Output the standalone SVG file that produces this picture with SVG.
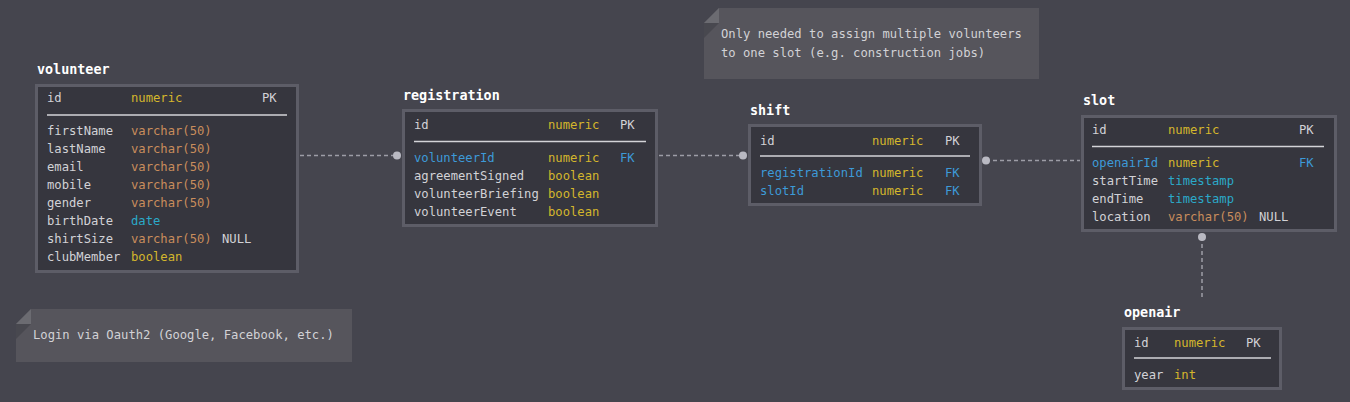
<svg xmlns="http://www.w3.org/2000/svg" width="1350" height="402" viewBox="0 0 1350 402">
<style>
text{font-family:"DejaVu Sans Mono","Liberation Mono",monospace;font-size:12.2px;fill:#d2d2d6}
.title{font-size:13.4px;font-weight:bold;fill:#ffffff}
.tbl{fill:#36363e;stroke:#5d5d67;stroke-width:3}
.hl{stroke:#d4d4d8;stroke-width:1.5}
.num{fill:#d4b62c}
.vc{fill:#c98d5c}
.ts{fill:#2ba9c9}
.fk{fill:#3d9ad8}
.conn{fill:none;stroke:#9d9da6;stroke-width:1.5;stroke-dasharray:4 3}
.dot{fill:#b9b9c2}
.note{fill:#56555c}
.fold{fill:#6b6b71}
.shade{fill:#48484f}
</style>
<rect width="1350" height="402" fill="#45454e"/>
<g id="connectors">
<line class="conn" x1="300" y1="155.5" x2="397" y2="155.5"/>
<circle class="dot" cx="397" cy="155.5" r="4"/>
<line class="conn" x1="659" y1="155.5" x2="743" y2="155.5"/>
<circle class="dot" cx="743" cy="155.5" r="4"/>
<line class="conn" x1="986" y1="160.5" x2="1080" y2="160.5"/>
<circle class="dot" cx="986" cy="160.5" r="4"/>
<line class="conn" x1="1202" y1="237" x2="1202" y2="299"/>
<circle class="dot" cx="1202" cy="237" r="4"/>
</g>
<g id="volunteer">
<text class="title" x="37" y="74">volunteer</text>
<rect class="tbl" x="36.5" y="85.5" width="261" height="186"/>
<text x="47" y="102">id</text><text class="num" x="131" y="102">numeric</text><text x="262" y="102">PK</text>
<line class="hl" x1="47" y1="115" x2="287" y2="115"/>
<text x="47" y="135">firstName</text><text class="vc" x="131" y="135">varchar(50)</text>
<text x="47" y="153">lastName</text><text class="vc" x="131" y="153">varchar(50)</text>
<text x="47" y="171">email</text><text class="vc" x="131" y="171">varchar(50)</text>
<text x="47" y="189">mobile</text><text class="vc" x="131" y="189">varchar(50)</text>
<text x="47" y="207">gender</text><text class="vc" x="131" y="207">varchar(50)</text>
<text x="47" y="225">birthDate</text><text class="ts" x="131" y="225">date</text>
<text x="47" y="243">shirtSize</text><text class="vc" x="131" y="243">varchar(50)</text><text x="222" y="243">NULL</text>
<text x="47" y="261">clubMember</text><text class="num" x="131" y="261">boolean</text>
</g>
<g id="registration">
<text class="title" x="403" y="100">registration</text>
<rect class="tbl" x="403.5" y="110.5" width="253" height="115"/>
<text x="414" y="129">id</text><text class="num" x="548" y="129">numeric</text><text x="620" y="129">PK</text>
<line class="hl" x1="414" y1="141.5" x2="646" y2="141.5"/>
<text class="fk" x="414" y="162">volunteerId</text><text class="num" x="548" y="162">numeric</text><text class="fk" x="620" y="162">FK</text>
<text x="414" y="180">agreementSigned</text><text class="num" x="548" y="180">boolean</text>
<text x="414" y="198">volunteerBriefing</text><text class="num" x="548" y="198">boolean</text>
<text x="414" y="216">volunteerEvent</text><text class="num" x="548" y="216">boolean</text>
</g>
<g id="shift">
<text class="title" x="750" y="115">shift</text>
<rect class="tbl" x="749.5" y="125.5" width="231" height="79"/>
<text x="760" y="145">id</text><text class="num" x="872" y="145">numeric</text><text x="945" y="145">PK</text>
<line class="hl" x1="760" y1="156" x2="970" y2="156"/>
<text class="fk" x="760" y="177">registrationId</text><text class="num" x="872" y="177">numeric</text><text class="fk" x="945" y="177">FK</text>
<text class="fk" x="760" y="195">slotId</text><text class="num" x="872" y="195">numeric</text><text class="fk" x="945" y="195">FK</text>
</g>
<g id="slot">
<text class="title" x="1083" y="105">slot</text>
<rect class="tbl" x="1082.5" y="116.5" width="253" height="114"/>
<text x="1092" y="134">id</text><text class="num" x="1168" y="134">numeric</text><text x="1299" y="134">PK</text>
<line class="hl" x1="1092" y1="146.5" x2="1324" y2="146.5"/>
<text class="fk" x="1092" y="167">openairId</text><text class="num" x="1168" y="167">numeric</text><text class="fk" x="1299" y="167">FK</text>
<text x="1092" y="185">startTime</text><text class="ts" x="1168" y="185">timestamp</text>
<text x="1092" y="203">endTime</text><text class="ts" x="1168" y="203">timestamp</text>
<text x="1092" y="221">location</text><text class="vc" x="1168" y="221">varchar(50)</text><text x="1259" y="221">NULL</text>
</g>
<g id="openair">
<text class="title" x="1124" y="317">openair</text>
<rect class="tbl" x="1123.5" y="328.5" width="157" height="60"/>
<text x="1134" y="347">id</text><text class="num" x="1174" y="347">numeric</text><text x="1246" y="347">PK</text>
<line class="hl" x1="1134" y1="358" x2="1271" y2="358"/>
<text x="1134" y="379">year</text><text class="num" x="1174" y="379">int</text>
</g>
<g id="note-shift">
<polygon class="note" points="719,8 1039,8 1039,79 704,79 704,23"/>
<polygon class="fold" points="719,8 719,23 704,23"/>
<polygon class="shade" points="704,23 719,23 704,38"/>
<text x="721" y="38">Only needed to assign multiple volunteers</text>
<text x="721" y="57">to one slot (e.g. construction jobs)</text>
</g>
<g id="note-login">
<polygon class="note" points="31,309 352,309 352,362 16,362 16,324"/>
<polygon class="fold" points="31,309 31,324 16,324"/>
<polygon class="shade" points="16,324 31,324 16,339"/>
<text x="33" y="339">Login via Oauth2 (Google, Facebook, etc.)</text>
</g>
</svg>
